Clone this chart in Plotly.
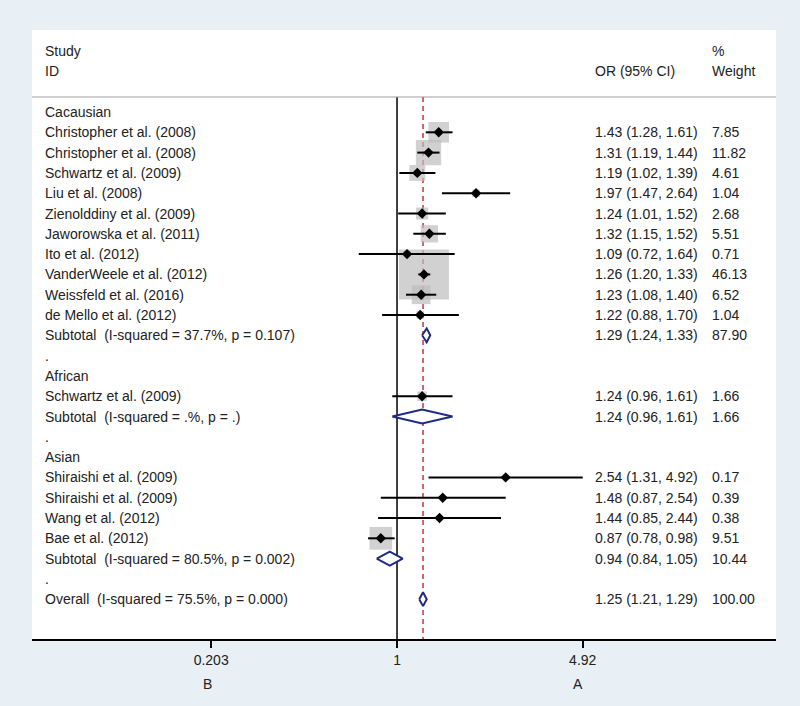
import math
import plotly.graph_objects as go

# ---------------- data ----------------
row_labels = [
    "Cacausian",
    "Christopher et al. (2008)",
    "Christopher et al. (2008)",
    "Schwartz et al. (2009)",
    "Liu et al. (2008)",
    "Zienolddiny et al. (2009)",
    "Jaworowska et al. (2011)",
    "Ito et al. (2012)",
    "VanderWeele et al. (2012)",
    "Weissfeld et al. (2016)",
    "de Mello et al. (2012)",
    "Subtotal  (I-squared = 37.7%, p = 0.107)",
    ".",
    "African",
    "Schwartz et al. (2009)",
    "Subtotal  (I-squared = .%, p = .)",
    ".",
    "Asian",
    "Shiraishi et al. (2009)",
    "Shiraishi et al. (2009)",
    "Wang et al. (2012)",
    "Bae et al. (2012)",
    "Subtotal  (I-squared = 80.5%, p = 0.002)",
    ".",
    "Overall  (I-squared = 75.5%, p = 0.000)",
]
row_kind = [
    "group", "study", "study", "study", "study", "study", "study", "study",
    "study", "study", "study", "pooled", "blank",
    "group", "study", "pooled", "blank",
    "group", "study", "study", "study", "study", "pooled", "blank",
    "pooled",
]
or_est = [None, 1.43, 1.31, 1.19, 1.97, 1.24, 1.32, 1.09, 1.26, 1.23, 1.22, 1.29, None,
          None, 1.24, 1.24, None,
          None, 2.54, 1.48, 1.44, 0.87, 0.94, None,
          1.25]
ci_low = [None, 1.28, 1.19, 1.02, 1.47, 1.01, 1.15, 0.72, 1.20, 1.08, 0.88, 1.24, None,
          None, 0.96, 0.96, None,
          None, 1.31, 0.87, 0.85, 0.78, 0.84, None,
          1.21]
ci_high = [None, 1.61, 1.44, 1.39, 2.64, 1.52, 1.52, 1.64, 1.33, 1.40, 1.70, 1.33, None,
           None, 1.61, 1.61, None,
           None, 4.92, 2.54, 2.44, 0.98, 1.05, None,
           1.29]
weights = [None, 7.85, 11.82, 4.61, 1.04, 2.68, 5.51, 0.71, 46.13, 6.52, 1.04, 87.90, None,
           None, 1.66, 1.66, None,
           None, 0.17, 0.39, 0.38, 9.51, 10.44, None,
           100.00]
tick_values = [0.203, 1, 4.92]
tick_labels = ["0.203", "1", "4.92"]
overall_or = 1.25

# ---------------- geometry ----------------
Y_TOP, Y_BOT = -4.04, 25.96
HEADER_Y = -0.74
FONT = "Liberation Sans, Arial, sans-serif"
TXT = "#222222"
NAVY = "#1f2a86"

fig = go.Figure()

# reference lines
fig.add_trace(go.Scatter(x=[1, 1], y=[HEADER_Y, Y_BOT], mode="lines",
                         line=dict(color="black", width=1.5), hoverinfo="skip"))
fig.add_trace(go.Scatter(x=[overall_or, overall_or], y=[HEADER_Y, Y_BOT], mode="lines",
                         line=dict(color="#d0303a", width=1.5, dash="5px,4px"),
                         hoverinfo="skip"))

# weight boxes
bx, by, bs = [], [], []
for i, k in enumerate(row_kind):
    if k == "study":
        bx.append(or_est[i]); by.append(i)
        bs.append(50 * math.sqrt(weights[i] / 46.13))
fig.add_trace(go.Scatter(x=bx, y=by, mode="markers",
                         marker=dict(symbol="square", size=bs, color="#bdbdbd",
                                     line=dict(width=0)), hoverinfo="skip"))

# CI lines
lx, ly = [], []
for i, k in enumerate(row_kind):
    if k == "study":
        lx += [ci_low[i], ci_high[i], None]
        ly += [i, i, None]
fig.add_trace(go.Scatter(x=lx, y=ly, mode="lines",
                         line=dict(color="black", width=2), hoverinfo="skip"))

# point estimates
fig.add_trace(go.Scatter(x=bx, y=by, mode="markers",
                         marker=dict(symbol="diamond", size=8, color="black"),
                         hoverinfo="skip"))

# pooled diamonds
h = 0.34
for i, k in enumerate(row_kind):
    if k == "pooled":
        fig.add_trace(go.Scatter(
            x=[ci_low[i], or_est[i], ci_high[i], or_est[i], ci_low[i]],
            y=[i, i - h, i, i + h, i],
            mode="lines", fill="toself", fillcolor="white",
            line=dict(color=NAVY, width=2), hoverinfo="skip"))

# text columns
ann = []
X_LBL, X_OR, X_WT = 0.0148, 0.754, 0.911


def txt(x, y, s):
    ann.append(dict(x=x, y=y, xref="paper", yref="y", text=s, showarrow=False,
                    xanchor="left", yanchor="middle",
                    font=dict(family=FONT, size=14, color=TXT)))


txt(X_LBL, -3, "Study")
txt(X_LBL, -2, "ID")
txt(X_OR, -2, "OR (95% CI)")
txt(X_WT, -3, "%")
txt(X_WT, -2, "Weight")
for i, lab in enumerate(row_labels):
    txt(X_LBL, i, lab)
    if or_est[i] is not None:
        txt(X_OR, i, f"{or_est[i]:.2f} ({ci_low[i]:.2f}, {ci_high[i]:.2f})")
        txt(X_WT, i, f"{weights[i]:.2f}")

for x, s in [(0.236, "B"), (0.734, "A")]:
    ann.append(dict(x=x, y=-0.074, xref="paper", yref="paper", text=s, showarrow=False,
                    xanchor="center", yanchor="middle",
                    font=dict(family=FONT, size=14, color=TXT)))

fig.update_layout(
    width=800, height=706,
    margin=dict(l=32, r=24, t=30, b=67),
    paper_bgcolor="#e8eff5", plot_bgcolor="white",
    showlegend=False,
    annotations=ann,
    shapes=[dict(type="line", xref="paper", yref="y", x0=0, x1=1,
                 y0=HEADER_Y, y1=HEADER_Y, line=dict(color="#a0a0a0", width=1))],
    xaxis=dict(type="log", range=[-1.360, 1.412], tickvals=tick_values, ticktext=tick_labels,
               ticks="outside", ticklen=7, tickwidth=1.5, tickcolor="black",
               showgrid=False, zeroline=False, showline=True, linecolor="black",
               linewidth=1.5, tickfont=dict(family=FONT, size=14, color=TXT)),
    yaxis=dict(range=[Y_BOT, Y_TOP], visible=False, showgrid=False, zeroline=False),
)

fig.write_html("out.html",
               config={"displayModeBar": False},
               post_script="document.body.style.margin='0px';"
                           "document.body.style.overflow='hidden';")
